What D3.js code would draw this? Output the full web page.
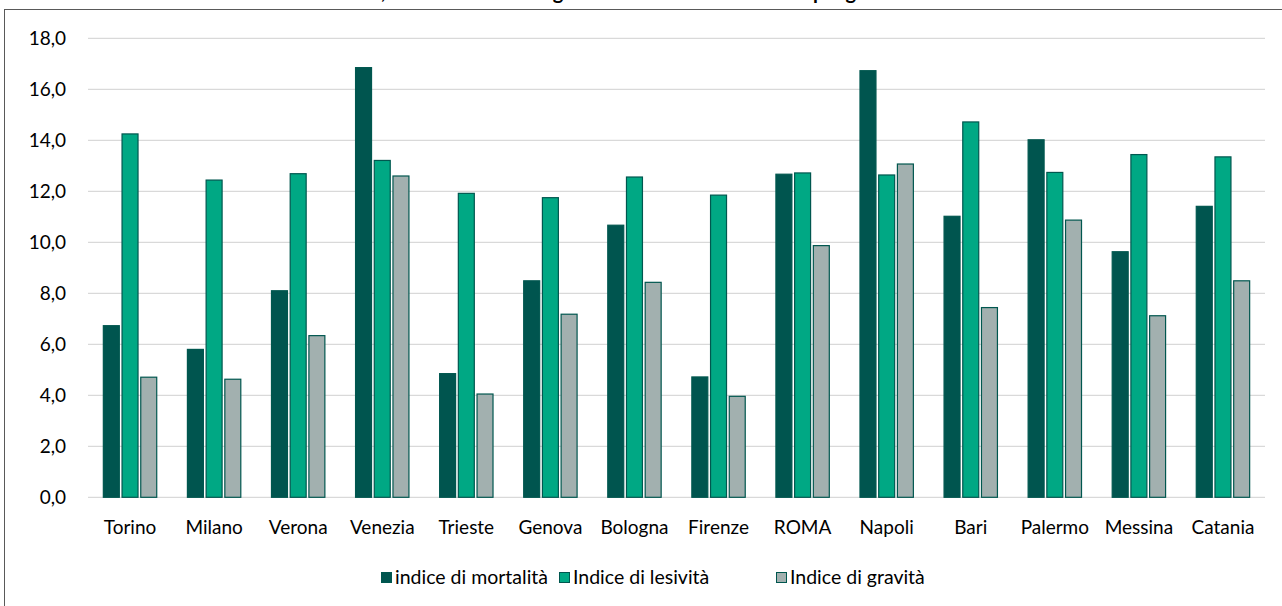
<!DOCTYPE html>
<html><head><meta charset="utf-8">
<script src="https://cdn.jsdelivr.net/npm/d3@7"></script>
<style>html,body{margin:0;padding:0;background:#fff;}svg{display:block;font-family:Lato,"Open Sans",sans-serif;}</style>
</head><body>
<svg id="c" width="1282" height="606"></svg>
<script>
const categories = ["Torino","Milano","Verona","Venezia","Trieste","Genova","Bologna","Firenze","ROMA","Napoli","Bari","Palermo","Messina","Catania"];
const seriesNames = ["indice di mortalità","Indice di lesività","Indice di gravità"];
const mortalita = [6.73,5.80,8.10,16.85,4.85,8.49,10.67,4.72,12.67,16.73,11.02,14.02,9.63,11.41];
const lesivita  = [14.25,12.44,12.69,13.21,11.92,11.75,12.56,11.85,12.72,12.64,14.72,12.74,13.44,13.35];
const gravita   = [4.71,4.63,6.34,12.60,4.05,7.18,8.43,3.96,9.87,13.07,7.44,10.87,7.12,8.49];
const yTicks = [0,2,4,6,8,10,12,14,16,18];
const titleText = "Indice di mortalità, indice di lesività e gravità nei 14 comuni italiani più grandi";

const colors = ["#00554F","#00A884","#A2B0AF"];
const series = [mortalita, lesivita, gravita];

const svg = d3.select("#c");
const fmt = v => d3.format(".1f")(v).replace(".", ",");

// outer chart box (partly cropped)
svg.append("rect").attr("x",4.5).attr("y",9.5).attr("width",1400).attr("height",700)
  .attr("fill","none").attr("stroke","#595959").attr("stroke-width",1);

// title (mostly cropped above the box, as in the reference)
const title = svg.append("text").attr("y",-1).attr("font-weight","bold").attr("font-size",20)
  .attr("fill","#000").text(titleText);
const commaIdx = titleText.indexOf(",");
const cpos = title.node().getStartPositionOfChar(commaIdx).x;
title.attr("x", 381 - cpos);

const x0 = d3.scaleBand().domain(categories).range([88,1265]).padding(0);
const y = d3.scaleLinear().domain([0,18]).range([497.3,38.3]);

// gridlines
svg.append("g").selectAll("line").data(yTicks).join("line")
  .attr("x1",88).attr("x2",1265).attr("y1",d=>y(d)).attr("y2",d=>y(d))
  .attr("stroke","#d9d9d9").attr("stroke-width",1.3);

// y labels
const yAxis = d3.axisLeft(y).tickValues(yTicks).tickFormat(fmt).tickSize(0).tickPadding(0);
const ya = svg.append("g").attr("transform","translate(66,0)").call(yAxis);
ya.select(".domain").remove();
ya.selectAll("text").attr("font-size",19).attr("fill","#000").attr("font-family","Lato,sans-serif");

// bars
const bw = x0.bandwidth()*0.19, pitch = x0.bandwidth()*0.2225;
series.forEach((vals,si)=>{
  svg.append("g").selectAll("rect").data(vals).join("rect")
    .attr("x",(d,i)=> x0(categories[i]) + x0.bandwidth()/2 - (pitch*2+bw)/2 + si*pitch)
    .attr("y",d=>y(d)).attr("width",bw).attr("height",d=>y(0)-y(d))
    .attr("fill",colors[si]).attr("stroke","#00574F").attr("stroke-width",1.2);
});

// x labels
const xAxis = d3.axisBottom(x0).tickSize(0).tickPadding(0);
const xa = svg.append("g").attr("transform","translate(0,520)").call(xAxis);
xa.select(".domain").remove();
xa.selectAll("text").attr("font-size",19).attr("fill","#000").attr("font-family","Lato,sans-serif");

// legend
const starts = [381,559,776];
const lg = svg.append("g");
seriesNames.forEach((n,i)=>{
  lg.append("rect").attr("x",starts[i]+0.5).attr("y",572.5).attr("width",10).attr("height",10)
    .attr("fill",colors[i]).attr("stroke","#00574F").attr("stroke-width",1);
  lg.append("text").attr("x",starts[i]+14).attr("y",584).attr("font-size",19.5).attr("fill","#000").text(n);
});
</script>
</body></html>
